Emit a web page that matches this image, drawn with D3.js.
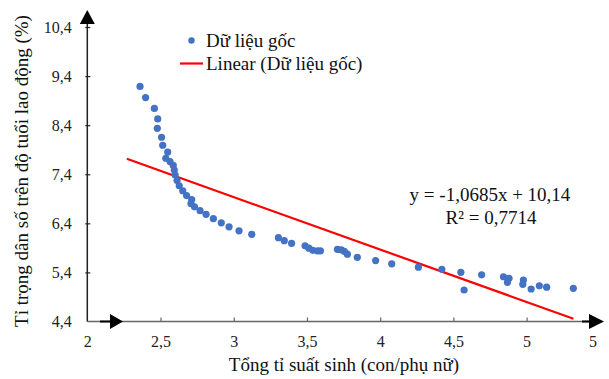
<!DOCTYPE html>
<html>
<head>
<meta charset="utf-8">
<script src="https://cdn.jsdelivr.net/npm/d3@7"></script>
<style>
html,body{margin:0;padding:0;background:#fff;}
svg{display:block;}
</style>
</head>
<body>
<svg id="chart" width="609" height="379"></svg>
<script>
// Data: total fertility rate (x) vs share of population above working age (y, %)
const tfr = [2.360,2.398,2.458,2.481,2.478,2.507,2.515,2.549,2.536,2.565,2.587,2.594,2.600,2.613,2.628,2.652,2.678,2.713,2.708,2.732,2.770,2.811,2.861,2.915,2.968,3.036,3.123,3.305,3.345,3.395,3.487,3.513,3.540,3.572,3.592,3.708,3.734,3.755,3.776,3.844,3.969,4.079,4.261,4.421,4.551,4.573,4.693,4.842,4.880,4.869,4.978,4.974,5.031,5.087,5.137,5.319];
const share = [9.190,8.962,8.742,8.528,8.335,8.154,7.991,7.852,7.726,7.659,7.583,7.486,7.384,7.272,7.166,7.064,6.966,6.885,6.803,6.736,6.657,6.583,6.494,6.410,6.329,6.247,6.176,6.107,6.046,5.993,5.942,5.893,5.850,5.840,5.840,5.870,5.862,5.830,5.771,5.708,5.642,5.575,5.506,5.463,5.402,5.042,5.351,5.312,5.280,5.198,5.245,5.158,5.062,5.127,5.099,5.076];
const trendSlope = -1.0685;
const trendIntercept = 10.14;
const trendRange = [2.27, 5.32];
const xTickValues = [2,2.5,3,3.5,4,4.5,5,5.45];
const xTickLabels = ["2","2,5","3","3,5","4","4,5","5","5"];
const yTickValues = [4.4,5.4,6.4,7.4,8.4,9.4,10.4];
const yTickLabels = ["4,4","5,4","6,4","7,4","8,4","9,4","10,4"];
const seriesName = "Dữ liệu gốc";
const trendName = "Linear (Dữ liệu gốc)";
const eqText = "y = -1,0685x + 10,14";
const r2Text = "R² = 0,7714";
const xTitle = "Tổng tỉ suất sinh (con/phụ nữ)";
const yTitle = "Tỉ trọng dân số trên độ tuổi lao động (%)";

const FONT = '"Liberation Serif", "Times New Roman", serif';
const svg = d3.select("#chart");
const x = d3.scaleLinear().domain([2,5.45]).range([87.3,592.5]);
const y = d3.scaleLinear().domain([4.4,10.4]).range([321.5,27]);

// axes
const xAxis = d3.axisBottom(x).tickValues(xTickValues).tickSize(0).tickFormat((d,i)=>xTickLabels[i]);
const gx = svg.append("g").attr("transform",`translate(0,${y(4.4)})`).call(xAxis);
gx.select(".domain").remove();
gx.selectAll("text").style("font-family",FONT).style("font-size","16px").attr("fill","#222").attr("dy",0).attr("y",25.5);
gx.append("line").attr("x1",x(2)).attr("x2",590).attr("y1",0).attr("y2",0).attr("stroke","#666").attr("stroke-width",1.5);
gx.selectAll(".tick").filter(d=>d>2 && d<5.4).append("line").attr("y1",0).attr("y2",-4).attr("stroke","#666").attr("stroke-width",1.2);

const yAxis = d3.axisLeft(y).tickValues(yTickValues).tickSize(0).tickFormat((d,i)=>yTickLabels[i]);
const gy = svg.append("g").attr("transform",`translate(${x(2)},0)`).call(yAxis);
gy.select(".domain").remove();
gy.selectAll("text").style("font-family",FONT).style("font-size","16px").attr("fill","#222").attr("x",-15.5);
gy.append("line").attr("x1",0).attr("x2",0).attr("y1",y(4.4)).attr("y2",22).attr("stroke","#222").attr("stroke-width",1.5);
gy.selectAll(".tick").filter(d=>d>4.5).append("line").attr("x1",-2).attr("x2",3).attr("stroke","#222").attr("stroke-width",1.2);

// arrow decorations
const ax0 = x(2), ay0 = y(4.4);
svg.append("path").attr("d",`M${ax0},10 L${ax0+7.5},24 L${ax0-7.5},24 Z`).attr("fill","#000");
svg.append("path").attr("d",`M604,${ay0} L589,${ay0-7.5} L589,${ay0+7.5} Z`).attr("fill","#000");
svg.append("line").attr("x1",582).attr("x2",590).attr("y1",ay0).attr("y2",ay0).attr("stroke","#000").attr("stroke-width",2);
svg.append("path").attr("d",`M123,${ay0} L110,${ay0-7.5} L110,${ay0+7.5} Z`).attr("fill","#000");
svg.append("line").attr("x1",100).attr("x2",111).attr("y1",ay0).attr("y2",ay0).attr("stroke","#000").attr("stroke-width",2);

// trendline
const line = d3.line().x(d=>x(d)).y(d=>y(trendSlope*d+trendIntercept));
svg.append("path").datum(trendRange).attr("d",line).attr("fill","none").attr("stroke","#ff0000").attr("stroke-width",2.2);

// points
svg.append("g").selectAll("circle").data(tfr).join("circle")
  .attr("cx",d=>x(d)).attr("cy",(d,i)=>y(share[i])).attr("r",3.6).attr("fill","#4472C4");

function label(g, xx, yy, txt, anchor){
  return g.append("text").attr("x",xx).attr("y",yy).attr("text-anchor",anchor||"start")
    .style("font-family",FONT).style("font-size","19px").attr("fill","#111").text(txt);
}

// legend
const lg = svg.append("g");
lg.append("circle").attr("cx",191.5).attr("cy",40.5).attr("r",3.2).attr("fill","#4472C4");
label(lg,206,47,seriesName);
lg.append("line").attr("x1",180).attr("x2",203).attr("y1",63.5).attr("y2",63.5).attr("stroke","#ff0000").attr("stroke-width",2.2);
label(lg,206,70,trendName);

// equation
const tg = svg.append("g");
label(tg,490,201,eqText,"middle");
label(tg,491,224,r2Text,"middle");

// titles
label(tg,344,371,xTitle,"middle");
tg.append("text").attr("transform","translate(28,171) rotate(-90)").attr("text-anchor","middle")
  .style("font-family",FONT).style("font-size","19px").attr("fill","#111").text(yTitle);
</script>
</body>
</html>
